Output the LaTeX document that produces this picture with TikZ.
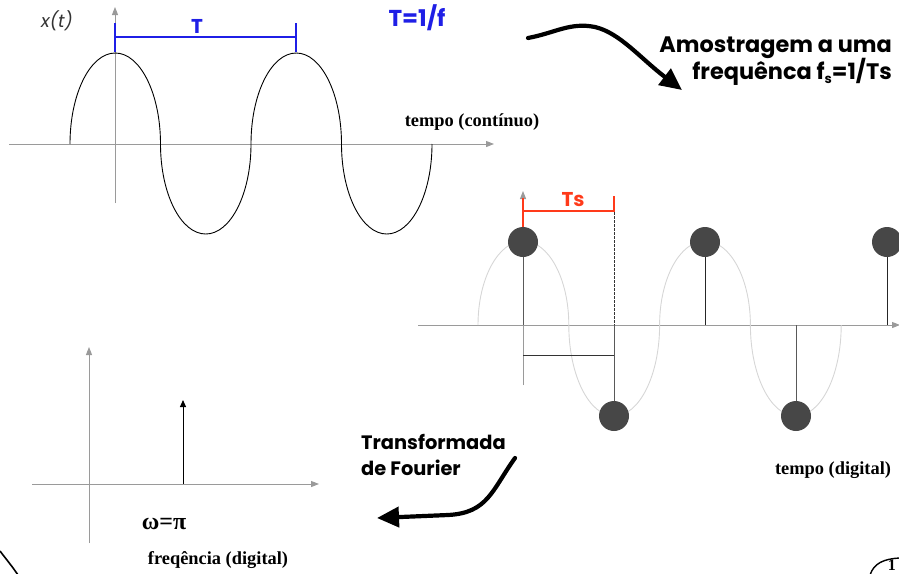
\documentclass[tikz,border=0pt]{standalone}
\usepackage{fontspec}
\setmainfont{Liberation Serif}
\setsansfont{Poppins}
\usetikzlibrary{arrows.meta}
\definecolor{axisgray}{HTML}{9A9A9A}
\definecolor{lightwave}{HTML}{D6D6D6}
\definecolor{dotgray}{HTML}{474747}
\definecolor{tsred}{HTML}{FF3A1A}
\definecolor{tblue}{HTML}{1F1FE6}
\tikzset{
  axis/.style={draw=axisgray, line width=1pt, -{Triangle[length=8pt,width=6pt]}},
  wave/.style={draw=black, line width=0.9pt},
  lwave/.style={draw=lightwave, line width=0.9pt},
  stem/.style={draw=black!85, line width=1pt},
  sample/.style={circle, fill=dotgray, minimum size=30pt, inner sep=0pt},
  bluemark/.style={draw=tblue, line width=1.1pt},
  redmark/.style={draw=tsred, line width=1.1pt},
  bigarrow/.style={line width=4.2pt, line cap=round, -{Triangle[length=22pt,width=20pt]}},
  sanslab/.style={inner sep=0pt, font=\sffamily\bfseries\fontsize{20}{22}\selectfont},
  biglab/.style={inner sep=0pt, font=\sffamily\bfseries\fontsize{22.4}{24}\selectfont},
  seriflab/.style={inner sep=0pt, font=\rmfamily\bfseries\fontsize{18.4}{20}\selectfont},
}
\begin{document}
\begin{tikzpicture}[x=1pt,y=-1pt]
\useasboundingbox (0,0) rectangle (899,573);
% ---------- top: continuous signal ----------
\coordinate (ta1) at (9,144); \coordinate (ta2) at (494,144);
\coordinate (tv1) at (115,203); \coordinate (tv2) at (115,7);
\draw[axis] (ta1) -- (ta2);
\draw[axis] (tv1) -- (tv2);
\draw[wave] (70,144)
  arc[start angle=180,end angle=360,x radius=45.25,y radius=91]
  arc[start angle=180,end angle=0,x radius=45.25,y radius=90]
  arc[start angle=180,end angle=360,x radius=45.25,y radius=91]
  arc[start angle=180,end angle=0,x radius=45.25,y radius=90];
\coordinate (b1a) at (115,23); \coordinate (b1b) at (115,52);
\coordinate (b2a) at (296,23); \coordinate (b2b) at (296,52);
\coordinate (b1m) at (115,37); \coordinate (b2m) at (296,37);
\draw[bluemark] (b1a) -- (b1b);
\draw[bluemark] (b2a) -- (b2b);
\draw[bluemark] (b1m) -- (b2m);
\node[sanslab, text=tblue] (T) at (197,26) {T};
\node[inner sep=0pt, text=tblue, font=\sffamily\bfseries\fontsize{23}{25}\selectfont] (Tf) at (417,18) {T=1/f};
\node[inner sep=0pt, text=black!80, font=\sffamily\itshape\fontsize{18}{20}\selectfont] (xt) at (57,21) {x(t)};
\node[seriflab] (tc) at (472,122) {tempo (contínuo)};
% ---------- sampling arrow ----------
\node[biglab, anchor=base east] (am1) at (892,52) {Amostragem a uma};
\node[biglab, anchor=base east] (am2) at (892,79) {frequênca f{\fontsize{13}{13}\selectfont\raisebox{-4.5pt}{s}}=1/Ts};
\coordinate (sa1) at (528,38);
\coordinate (sa2) at (682,90);
\draw[bigarrow] (sa1) .. controls (555,33) and (570,22) .. (595,27)
                      .. controls (620,33) and (640,58) .. (sa2);
% ---------- middle: sampled signal ----------
\coordinate (ma1) at (418,325); \coordinate (ma2) at (900,325);
\coordinate (mv1) at (523,385); \coordinate (mv2) at (523,191);
\draw[axis] (ma1) -- (ma2);
\draw[axis] (mv1) -- (mv2);
\draw[lwave] (478,325)
  arc[start angle=180,end angle=360,x radius=45.4,y radius=84]
  arc[start angle=180,end angle=0,x radius=45.4,y radius=91]
  arc[start angle=180,end angle=360,x radius=45.4,y radius=84]
  arc[start angle=180,end angle=0,x radius=45.4,y radius=91];
\coordinate (z1) at (523,325); \coordinate (z2) at (614,325);
\coordinate (z3) at (705,325); \coordinate (z4) at (796,325);
\coordinate (z5) at (887,325);
\coordinate (p1) at (523,242); \coordinate (p2) at (614,416);
\coordinate (p3) at (705,242); \coordinate (p4) at (796,416);
\coordinate (p5) at (887,242);
\draw[stem, draw=black!65] (z1) -- (p1);
\draw[stem, draw=black!65] (z2) -- (p2);
\draw[stem] (z3) -- (p3);
\draw[stem, draw=black!65] (z4) -- (p4);
\draw[stem] (z5) -- (p5);
\node[sample] (s1) at (p1) {};
\node[sample] (s2) at (p2) {};
\node[sample] (s3) at (p3) {};
\node[sample] (s4) at (p4) {};
\node[sample] (s5) at (p5) {};
\coordinate (r1a) at (523,198); \coordinate (r1b) at (523,227);
\coordinate (r2a) at (614,196); \coordinate (r2b) at (614,212);
\coordinate (r1m) at (523,211); \coordinate (r2m) at (614,211);
\draw[redmark] (r1a) -- (r1b);
\draw[redmark] (r2a) -- (r2b);
\draw[redmark] (r1m) -- (r2m);
\draw[black!80, line width=0.9pt, dash pattern=on 2.5pt off 1.5pt] (r2b) -- (z2);
\coordinate (h1) at (523,355); \coordinate (h2) at (614,355);
\draw[black!80, line width=1pt] (h1) -- (h2);
\node[sanslab, text=tsred] (Ts) at (573,200) {Ts};
\node[seriflab] (td) at (833,470) {tempo (digital)};
% ---------- Fourier arrow ----------
\node[sanslab, font=\sffamily\bfseries\fontsize{19.4}{21}\selectfont, anchor=base west] (tf1) at (361,449) {Transformada};
\node[sanslab, font=\sffamily\bfseries\fontsize{19.4}{21}\selectfont, anchor=base west] (tf2) at (361,475) {de Fourier};
\coordinate (fa1) at (515,458);
\coordinate (fa2) at (377,518);
\draw[bigarrow] (fa1) .. controls (492,490) and (488,513) .. (448,515) -- (fa2);
% ---------- bottom: spectrum ----------
\coordinate (ba1) at (32,484); \coordinate (ba2) at (319,484);
\coordinate (bv1) at (89,543); \coordinate (bv2) at (89,347);
\draw[axis] (ba1) -- (ba2);
\draw[axis] (bv1) -- (bv2);
\coordinate (d1) at (183,484); \coordinate (d2) at (183,400);
\draw[black, line width=1pt, -{Triangle[length=7pt,width=6pt]}] (d1) -- (d2);
\node[seriflab, font=\rmfamily\bfseries\fontsize{24}{26}\selectfont] (wp) at (164,524) {ω=π};
\node[seriflab] (fd) at (218,560) {freqência (digital)};
% ---------- page corner fragments ----------
\draw[line width=1.6pt] (0,551) .. controls (6,559) and (12,566) .. (18,575);
\draw[line width=1.4pt] (870,575) .. controls (874,563) and (884,559) .. (899,558);
\node[inner sep=0pt, font=\rmfamily\bfseries\fontsize{16}{18}\selectfont, anchor=base east] (pg) at (896,570) {1};
\end{tikzpicture}
\end{document}
